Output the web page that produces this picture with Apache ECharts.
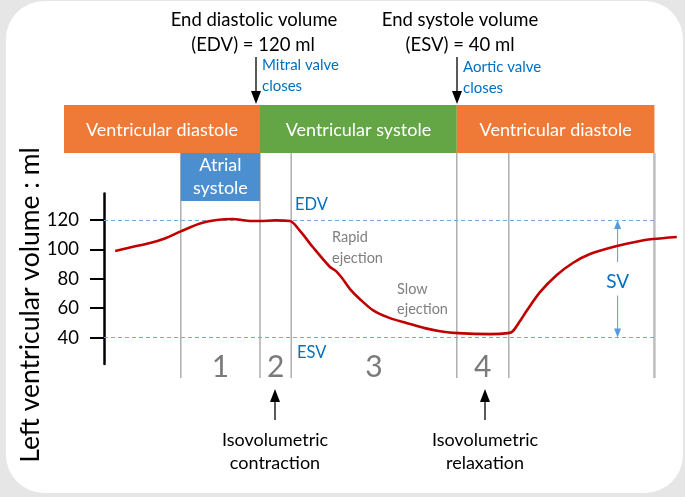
<!DOCTYPE html>
<html><head><meta charset="utf-8">
<script src="https://cdn.jsdelivr.net/npm/echarts@6/dist/echarts.min.js"></script>
<style>html,body{margin:0;padding:0;background:#e6e6e6}#c{width:685px;height:497px}</style>
</head><body><div id="c"></div>
<script>
// ---- data ----
const cycleTime = [14,32.5,57.5,76,96,120,141,161,176,186,195,214,232.5,245,261,282.5,290,297.5,307.5,320,336,357.5,379,401,420,442.5,482.5,505,511,520,529,545,566,586,607.5,641,670,686,716];
const lvVolume  = [98.9,101.3,104.3,107.4,112.2,117.6,120,120.7,119.7,119.3,119.3,119.7,119.3,112.5,101.6,88,85.2,80.5,73,66.1,58.7,53.2,49.8,46.4,44.3,43,42.3,43,44.3,51.2,58.7,70.9,82.5,90.7,96.8,102.3,105.7,107,108.4];
const yTicks = [40, 60, 80, 100, 120];
const edvValue = 120;
const esvValue = 40;
const phaseBounds = [96, 195, 234, 441, 506, 688];
const phaseNumbers = ['1', '2', '3', '4'];
const topPhaseNames = ['Ventricular diastole', 'Ventricular systole', 'Ventricular diastole'];
const topPhaseStart = [-50, 195, 441];
const topPhaseEnd   = [195, 441, 688];
const topPhaseColors = ['#ef7a37', '#64a646', '#ef7a37'];
const svTime = 642;

const FONT = 'Lato';
const BAR_TOP = 105, BAR_H = 48;
const ATR_TOP = 153, ATR_H = 48;
const VL_TOP = 153, VL_BOT = 378;

const chart = echarts.init(document.getElementById('c'));

function arrow(x, y1, y2, color, headW, headL, lw) {
  const dir = y2 > y1 ? 1 : -1;
  return {
    type: 'group', silent: true, children: [
      { type: 'line', shape: { x1: x, y1: y1, x2: x, y2: y2 - dir * headL * 0.8 }, style: { stroke: color, lineWidth: lw } },
      { type: 'polygon', shape: { points: [[x - headW / 2, y2 - dir * headL], [x + headW / 2, y2 - dir * headL], [x, y2]] }, style: { fill: color } }
    ]
  };
}
function txt(text, x, y, size, color, align) {
  return { type: 'text', silent: true, x: x, y: y, style: { text: text, fontFamily: FONT, fontSize: size, fill: color, align: align || 'center', verticalAlign: 'middle' } };
}

const option = {
  animation: false,
  backgroundColor: '#e6e6e6',
  grid: { left: 104, right: 5, top: 193.5, bottom: 133 },
  xAxis: { type: 'value', min: 0, max: 720, show: false },
  yAxis: {
    type: 'value', min: 22, max: 138,
    axisLine: { show: true, lineStyle: { color: '#000', width: 2.5 } },
    axisTick: { show: true, length: 14, customValues: yTicks, lineStyle: { color: '#000', width: 2 } },
    axisLabel: { customValues: yTicks, color: '#000', fontSize: 18.5, fontFamily: FONT, margin: 25 },
    splitLine: { show: false }
  },
  series: [
    {
      type: 'custom', silent: true, z: 1, clip: false,
      data: phaseBounds.map(b => [b]),
      renderItem: (params, api) => {
        const x = api.coord([api.value(0), 0])[0];
        const last = params.dataIndex === phaseBounds.length - 1;
        return { type: 'line', shape: { x1: x, y1: VL_TOP, x2: x, y2: VL_BOT }, style: { stroke: last ? '#bdbdbd' : '#a3a3a3', lineWidth: last ? 2.5 : 1.3 } };
      }
    },
    {
      type: 'custom', silent: true, z: 2, clip: false,
      data: topPhaseStart.map((s, i) => [s, topPhaseEnd[i]]),
      renderItem: (params, api) => {
        const x0 = api.coord([api.value(0), 0])[0];
        const x1 = api.coord([api.value(1), 0])[0];
        const i = params.dataIndex;
        return { type: 'group', children: [
          { type: 'rect', shape: { x: x0, y: BAR_TOP, width: x1 - x0, height: BAR_H }, style: { fill: topPhaseColors[i] } },
          { type: 'text', style: { text: topPhaseNames[i], x: (x0 + x1) / 2, y: BAR_TOP + BAR_H / 2 + 1, align: 'center', verticalAlign: 'middle', fill: '#fff', fontSize: 18, fontFamily: FONT } }
        ] };
      }
    },
    {
      type: 'custom', silent: true, z: 2, clip: false,
      data: [[phaseBounds[0], phaseBounds[1]]],
      renderItem: (params, api) => {
        const x0 = api.coord([api.value(0), 0])[0];
        const x1 = api.coord([api.value(1), 0])[0];
        return { type: 'group', children: [
          { type: 'rect', shape: { x: x0, y: ATR_TOP, width: x1 - x0, height: ATR_H }, style: { fill: '#4b8fd0' } },
          { type: 'text', style: { text: 'Atrial\nsystole', x: (x0 + x1) / 2, y: ATR_TOP + ATR_H / 2, align: 'center', verticalAlign: 'middle', fill: '#fff', fontSize: 18, lineHeight: 23, fontFamily: FONT } }
        ] };
      }
    },
    {
      type: 'custom', silent: true, z: 2, clip: false,
      data: phaseNumbers.map((n, i) => [(phaseBounds[i] + phaseBounds[i + 1]) / 2]),
      renderItem: (params, api) => {
        const x = api.coord([api.value(0), 0])[0];
        return { type: 'text', style: { text: phaseNumbers[params.dataIndex], x: x, y: 367, align: 'center', verticalAlign: 'middle', fill: '#7a7a7a', fontSize: 30, fontFamily: FONT } };
      }
    },
    {
      type: 'line', z: 5, smooth: 0.3, symbol: 'none',
      data: cycleTime.map((t, i) => [t, lvVolume[i]]),
      lineStyle: { color: '#c00000', width: 2.6 },
      markLine: {
        silent: true, symbol: 'none', label: { show: false },
        lineStyle: { color: '#74a9de', type: [4, 3], width: 1 },
        data: [
          [{ coord: [0, edvValue] }, { coord: [phaseBounds[5], edvValue] }],
          [{ coord: [0, esvValue] }, { coord: [phaseBounds[5], esvValue] }]
        ]
      }
    }
  ]
};
chart.setOption(option);

const yEdv = chart.convertToPixel({ gridIndex: 0 }, [0, edvValue])[1];
const yEsv = chart.convertToPixel({ gridIndex: 0 }, [0, esvValue])[1];
const xSv = chart.convertToPixel({ gridIndex: 0 }, [svTime, 0])[0];

chart.setOption({
  graphic: [
    { type: 'rect', z: -10, silent: true, shape: { x: 6, y: 1, width: 677, height: 492, r: 38 }, style: { fill: '#fff' } },
    txt('End diastolic volume', 254, 20, 18.5, '#000'),
    txt('(EDV) = 120 ml', 253, 45, 18.5, '#000'),
    txt('End systole volume', 460, 20, 18.5, '#000'),
    txt('(ESV) = 40 ml', 460, 45, 18.5, '#000'),
    arrow(256, 57, 104, '#000', 10, 13, 1.3),
    arrow(457, 57, 104, '#000', 10, 13, 1.3),
    txt('Mitral valve', 262, 65, 15, '#0070c0', 'left'),
    txt('closes', 262, 86, 15, '#0070c0', 'left'),
    txt('Aortic valve', 463, 67, 15, '#0070c0', 'left'),
    txt('closes', 463, 88, 15, '#0070c0', 'left'),
    txt('EDV', 295, 205, 16.5, '#0070c0', 'left'),
    txt('ESV', 297, 353, 16.5, '#0070c0', 'left'),
    txt('Rapid', 332, 237, 14.5, '#7f7f7f', 'left'),
    txt('ejection', 332, 258, 14.5, '#7f7f7f', 'left'),
    txt('Slow', 397, 289, 14.5, '#7f7f7f', 'left'),
    txt('ejection', 397, 309, 14.5, '#7f7f7f', 'left'),
    arrow(xSv, yEdv + 20, yEdv, '#5b9bd5', 7, 9, 1),
    arrow(xSv, yEdv + 42, yEdv + 20, '#5b9bd5', 0.1, 0.1, 1),
    arrow(xSv, yEsv - 42, yEsv, '#5b9bd5', 7, 9, 1),
    txt('SV', xSv, (yEdv + yEsv) / 2 + 3, 19, '#0070c0'),
    arrow(275, 420, 389, '#000', 10, 13, 1.3),
    arrow(485, 420, 389, '#000', 10, 13, 1.3),
    txt('Isovolumetric', 275, 440, 18, '#000'),
    txt('contraction', 275, 463, 18, '#000'),
    txt('Isovolumetric', 485, 440, 18, '#000'),
    txt('relaxation', 485, 463, 18, '#000'),
    { type: 'text', silent: true, x: 30, y: 305, rotation: Math.PI / 2, style: { text: 'Left ventricular volume : ml', fontFamily: FONT, fontSize: 26.5, fill: '#000', align: 'center', verticalAlign: 'middle' } }
  ]
});
</script>
</body></html>
